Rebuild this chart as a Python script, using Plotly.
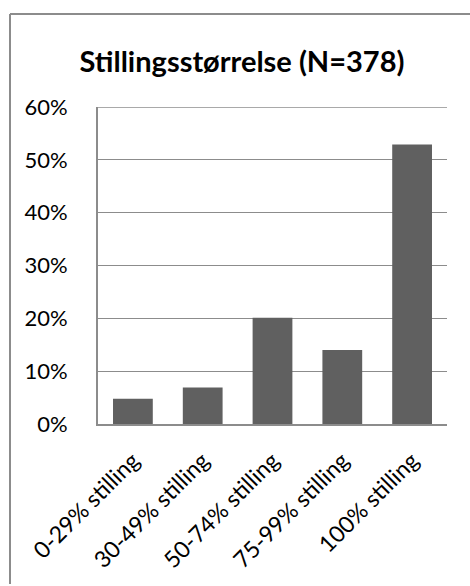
import plotly.graph_objects as go

# Share of respondents by position size
categories = ["0-29% stilling", "30-49% stilling", "50-74% stilling",
              "75-99% stilling", "100% stilling"]
shares = [0.048, 0.069, 0.201, 0.140, 0.529]
y_ticks = [0, 0.1, 0.2, 0.3, 0.4, 0.5, 0.6]
y_tick_labels = ["0%", "10%", "20%", "30%", "40%", "50%", "60%"]

FONT = "Lato"
GRID = "#8c8c8c"

W, H = 470, 586
L, R, T, B = 98, 23, 107, 162
pw, ph = W - L - R, H - T - B


def px_x(x):
    return (x - L) / pw


def px_y(y):
    return (H - B - y) / ph


fig = go.Figure(
    go.Bar(
        x=categories,
        y=shares,
        marker=dict(color="#606060", line=dict(width=0)),
        width=0.57,
        hoverinfo="x+y",
    )
)

fig.update_layout(
    width=W,
    height=H,
    margin=dict(l=L, r=R, t=T, b=B, pad=0),
    paper_bgcolor="white",
    plot_bgcolor="white",
    showlegend=False,
    font=dict(family=FONT, color="#000000", size=21),
    title=dict(
        text="<b>Stillingsstørrelse (N=378)</b>",
        font=dict(family=FONT, size=29, color="#000000"),
        x=242 / W,
        xanchor="center",
        xref="container",
        y=1 - 62 / H,
        yanchor="middle",
    ),
    bargap=0.43,
    xaxis=dict(
        tickangle=-45,
        showgrid=False,
        showline=True,
        linecolor=GRID,
        linewidth=2,
        ticks="",
        ticklabelstandoff=12,
        tickfont=dict(family=FONT, size=23),
        fixedrange=True,
    ),
    yaxis=dict(
        range=[0, 0.6],
        tickvals=y_ticks,
        ticktext=y_tick_labels,
        showgrid=True,
        gridcolor=GRID,
        gridwidth=1,
        showline=True,
        linecolor=GRID,
        linewidth=2,
        ticks="",
        ticklabelstandoff=24,
        zeroline=False,
        tickfont=dict(family=FONT, size=22),
        fixedrange=True,
    ),
    shapes=[
        # top gridline at the upper end of the value axis
        dict(type="line", xref="paper", yref="y",
             x0=0, x1=1, y0=y_ticks[-1], y1=y_ticks[-1],
             line=dict(color=GRID, width=1.5), layer="below"),
        # outer chart frame (left and top edges)
        dict(type="line", xref="paper", yref="paper",
             x0=px_x(10), x1=px_x(472), y0=px_y(14), y1=px_y(14),
             line=dict(color=GRID, width=2)),
        dict(type="line", xref="paper", yref="paper",
             x0=px_x(10), x1=px_x(10), y0=px_y(14), y1=px_y(584),
             line=dict(color=GRID, width=2)),
    ],
)

fig.write_html("out.html")
